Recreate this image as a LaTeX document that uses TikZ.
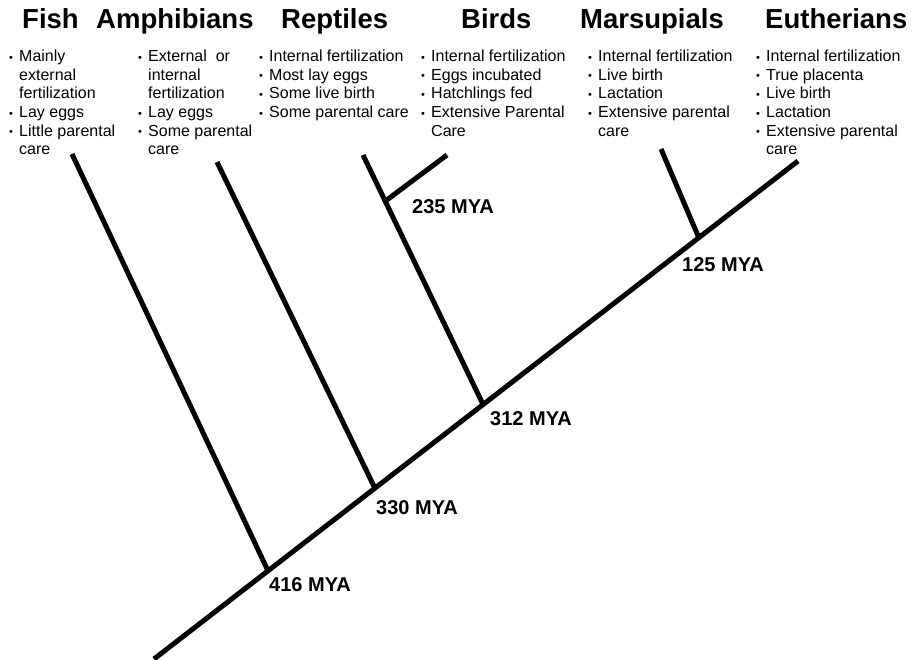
\documentclass[tikz,border=0pt]{standalone}
\usepackage{fontspec}
\setmainfont{Liberation Sans}
\usetikzlibrary{calc}
\newcommand{\bl}{\makebox[10pt][l]{\raisebox{0.5pt}{\fontsize{11}{11}\selectfont•}}}
\newcommand{\ind}{\hspace*{10pt}}
\tikzset{
  branch/.style={line width=5pt, black},
  title/.style={anchor=base west, inner sep=0pt, font=\fontsize{27.5}{30}\selectfont\bfseries},
  traits/.style={anchor=north west, inner sep=0pt, align=left, font=\fontsize{16}{18.6}\selectfont},
  age/.style={anchor=west, inner sep=0pt, font=\fontsize{20}{22}\selectfont\bfseries}
}
\begin{document}
\begin{tikzpicture}[x=1pt,y=-1pt]
\useasboundingbox[fill=white] (0,0) rectangle (912,660);
% titles
\node[title] (tfish) at (22,29) {Fish};
\node[title] (tamph) at (96,29) {Amphibians};
\node[title] (trept) at (281,29) {Reptiles};
\node[title] (tbird) at (461,29) {Birds};
\node[title] (tmars) at (580,29) {Marsupials};
\node[title] (teuth) at (765,29) {Eutherians};
% trait lists
\node[traits] (lfish) at (9,50) {\bl Mainly\\ \ind external\\ \ind fertilization\\ \bl Lay eggs\\ \bl Little parental\\ \ind care};
\node[traits] (lamph) at (138,50) {\bl External \ or\\ \ind internal\\ \ind fertilization\\ \bl Lay eggs\\ \bl Some parental\\ \ind care};
\node[traits] (lrept) at (259,50) {\bl Internal fertilization\\ \bl Most lay eggs\\ \bl Some live birth\\ \bl Some parental care};
\node[traits] (lbird) at (421,50) {\bl Internal fertilization\\ \bl Eggs incubated\\ \bl Hatchlings fed\\ \bl Extensive Parental\\ \ind Care};
\node[traits] (lmars) at (588,50) {\bl Internal fertilization\\ \bl Live birth\\ \bl Lactation\\ \bl Extensive parental\\ \ind care};
\node[traits] (leuth) at (756,50) {\bl Internal fertilization\\ \bl True placenta\\ \bl Live birth\\ \bl Lactation\\ \bl Extensive parental\\ \ind care};
% tree coordinates
\coordinate (root) at (154,659);
\coordinate (eutip) at (798,161);
\coordinate (jfish) at ($(root)!0.177!(eutip)$);
\coordinate (jamph) at ($(root)!0.343!(eutip)$);
\coordinate (jrept) at ($(root)!0.511!(eutip)$);
\coordinate (jmars) at ($(root)!0.846!(eutip)$);
\coordinate (fishtip) at (72,154);
\coordinate (amphtip) at (217,162);
\coordinate (repttip) at (363,155);
\coordinate (jbird) at ($(repttip)!0.185!(jrept)$);
\coordinate (birdtip) at (447,155);
\coordinate (marstip) at (661,149);
% branches
\draw[branch] (root) -- (eutip);
\draw[branch] (jfish) -- (fishtip);
\draw[branch] (jamph) -- (amphtip);
\draw[branch] (jrept) -- (repttip);
\draw[branch] (jbird) -- (birdtip);
\draw[branch] (jmars) -- (marstip);
% ages
\node[age] (a416) at (269,585) {416 MYA};
\node[age] (a330) at (376,508) {330 MYA};
\node[age] (a312) at (490,419) {312 MYA};
\node[age] (a235) at (412,207) {235 MYA};
\node[age] (a125) at (682,265) {125 MYA};
\end{tikzpicture}
\end{document}
